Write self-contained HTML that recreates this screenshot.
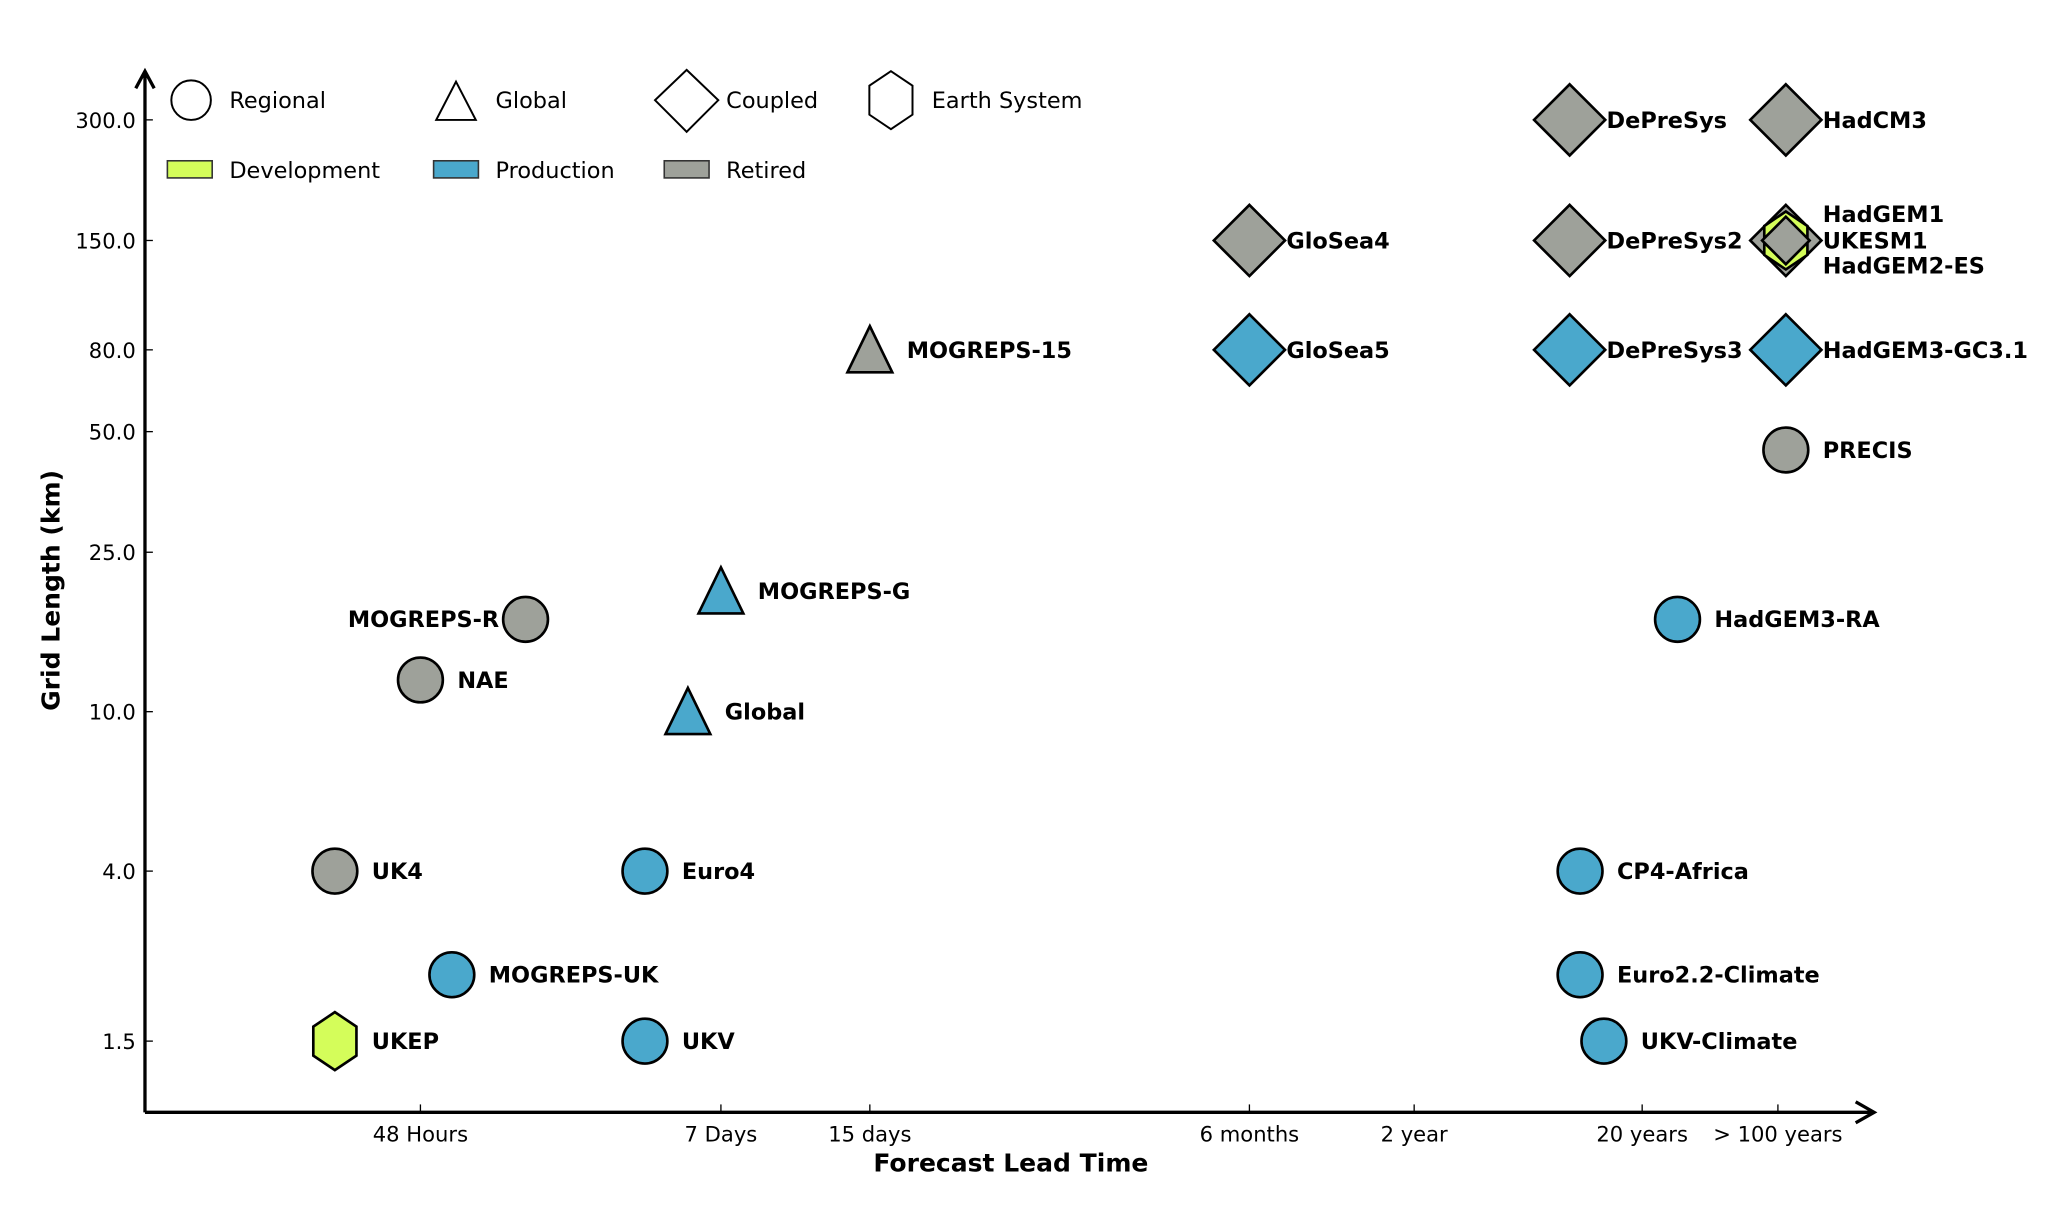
<!DOCTYPE html>
<html><head><meta charset="utf-8"><style>
html,body{margin:0;padding:0;background:#fff;}
svg{display:block;font-family:"DejaVu Sans","Liberation Sans",sans-serif;}
</style></head><body>
<svg id="chart" width="2056" height="1208" viewBox="0 0 1560 916.6" preserveAspectRatio="none" xmlns="http://www.w3.org/2000/svg">
<g id="axes"></g>
<g id="legend"></g>
<g id="marks"></g>
</svg>
<script>
// ---- data ----
const tickDays = [2, 7, 15, 182, 730, 7300, 36500];
const tickLabels = ["48 Hours", "7 Days", "15 days", "6 months", "2 year", "20 years", "> 100  years"];
const yTicks = [300, 150, 80, 50, 25, 10, 4, 1.5];
const yTickLabels = ["300.0", "150.0", "80.0", "50.0", "25.0", "10.0", "4.0", "1.5"];
const modelNames = ["UKEP","UK4","NAE","MOGREPS-UK","MOGREPS-R","Euro4","UKV","Global","MOGREPS-G","MOGREPS-15","GloSea4","GloSea5","DePreSys","DePreSys2","DePreSys3","CP4-Africa","Euro2.2-Climate","UKV-Climate","HadGEM3-RA","HadCM3","HadGEM1","UKESM1","HadGEM2-ES","HadGEM3-GC3.1","PRECIS"];
const modelLead = [1.4,1.4,2,2.28,3.1,5.1,5.1,6.1,7,15,182,182,3510,3510,3510,3900,3900,4960,11100,40100,40100,40100,40100,40100,40100];
const modelGrid = [1.5,4,12,2.2,17,4,1.5,10,20,80,150,80,300,150,80,4,2.2,1.5,17,300,150,150,150,80,45];
const modelShape = ["hexagon","circle","circle","circle","circle","circle","circle","triangle","triangle","triangle","diamond","diamond","diamond","diamond","diamond","circle","circle","circle","circle","diamond","diamond","hexagon","smalldiamond","diamond","circle"];
const modelStatus = ["dev","ret","ret","prod","ret","prod","prod","prod","prod","ret","ret","prod","ret","ret","prod","prod","prod","prod","prod","ret","ret","dev","ret","prod","ret"];

// ---- scales ----
const tickPos = [319, 547, 660, 948, 1073, 1246, 1349];
function xScale(d){
  const L = Math.log10(d);
  const lt = tickDays.map(Math.log10);
  let i = 0;
  if (L <= lt[0]) i = 0; else { i = lt.length - 2; for (let k=0;k<lt.length-1;k++){ if (L<=lt[k+1]){i=k;break;} } }
  return tickPos[i] + (L - lt[i]) / (lt[i+1]-lt[i]) * (tickPos[i+1]-tickPos[i]);
}
function yScale(v){
  const L = Math.log10(v);
  if (L >= 0.602) return 540 - 304*(L-1);
  return 661 + (0.602 - L)/(0.602-0.176)*129;
}
const colors = {dev:"#d4fd5a", prod:"#4aa8cc", ret:"#9ea19a"};
const NS = "http://www.w3.org/2000/svg";
function el(tag, attrs, parent){ const e=document.createElementNS(NS,tag); for(const k in attrs) e.setAttribute(k,attrs[k]); parent.appendChild(e); return e; }
function shape(kind, cx, cy, fill, parent, sw){
  sw = sw||2;
  if (kind==="circle") return el("circle",{cx:cx,cy:cy,r:17,fill:fill,stroke:"#000","stroke-width":sw},parent);
  let pts;
  if (kind==="triangle") pts=[[cx,cy-18],[cx+17,cy+17],[cx-17,cy+17]];
  else if (kind==="diamond") pts=[[cx,cy-27],[cx+27,cy],[cx,cy+27],[cx-27,cy]];
  else if (kind==="smalldiamond") pts=[[cx,cy-18],[cx+18,cy],[cx,cy+18],[cx-18,cy]];
  else { pts=[]; for(let k=0;k<6;k++){const a=Math.PI/2+k*Math.PI/3; pts.push([cx+21*Math.cos(a)*0.9, cy-22*Math.sin(a)]);} }
  return el("polygon",{points:pts.map(p=>p.join(",")).join(" "),fill:fill,stroke:"#000","stroke-width":sw,"stroke-linejoin":"miter"},parent);
}

// ---- axes ----
const axes = document.getElementById("axes");
const ya = el("path",{d:"M110 844 L110 54 M103 67 L110 54 L117 67",fill:"none",stroke:"#000","stroke-width":2.5},axes);


const xa = el("path",{d:"M110 844 L1422 844 M1408 836 L1422 844 L1408 852",fill:"none",stroke:"#000","stroke-width":2.5},axes);


yTicks.forEach((v,i)=>{
  const y=yScale(v);
  el("line",{x1:110,x2:116,y1:y,y2:y,stroke:"#000","stroke-width":1},axes);
  const t=el("text",{x:103,y:y+6,"text-anchor":"end","font-size":16},axes);
  t.textContent=yTickLabels[i];
  
  
});
tickDays.forEach((d,i)=>{
  const x=xScale(d);
  el("line",{x1:x,x2:x,y1:844,y2:838,stroke:"#000","stroke-width":1},axes);
  const t=el("text",{x:x,y:866,"text-anchor":"middle","font-size":16},axes);
  t.textContent=tickLabels[i];
  
  
});
const xt=el("text",{x:767,y:889,"text-anchor":"middle","font-size":19,"font-weight":"bold"},axes);
xt.textContent="Forecast Lead Time";


const yt=el("text",{x:0,y:0,"text-anchor":"middle","font-size":19,"font-weight":"bold",transform:"translate(45 448) rotate(-90)"},axes);
yt.textContent="Grid Length (km)";



// ---- legend ----
const lg = document.getElementById("legend");
const shapeLeg = [["circle",145,"Regional",174],["triangle",346,"Global",376],["diamond",521,"Coupled",551],["hexagon",676,"Earth System",707]];
shapeLeg.forEach(s=>{
  const g=el("g",{},lg);
  
  
  if(s[0]==="circle") el("circle",{cx:s[1],cy:76,r:15,fill:"#fff",stroke:"#000","stroke-width":1.5},g);
  else if(s[0]==="triangle") el("polygon",{points:`${s[1]},62 ${s[1]+15},91 ${s[1]-15},91`,fill:"#fff",stroke:"#000","stroke-width":1.5},g);
  else if(s[0]==="diamond") el("polygon",{points:`${s[1]},53 ${s[1]+24},76 ${s[1]},100 ${s[1]-24},76`,fill:"#fff",stroke:"#000","stroke-width":1.5},g);
  else shape("hexagon",s[1],76,"#fff",g,1.5);
  const t=el("text",{x:s[3],y:82,"font-size":17},g); t.textContent=s[2];
});
const statLeg=[["dev",127,"Development",174],["prod",329,"Production",376],["ret",504,"Retired",551]];
statLeg.forEach(s=>{
  const g=el("g",{},lg);
  
  
  el("rect",{x:s[1],y:122,width:34,height:13,fill:colors[s[0]],stroke:"#333","stroke-width":1.2},g);
  const t=el("text",{x:s[3],y:135,"font-size":17},g); t.textContent=s[2];
});

// ---- marks ----
const mk=document.getElementById("marks");
const labelOffsets = {"MOGREPS-R":[-20,"end"],"HadGEM1":[28,"start",-20],"HadGEM2-ES":[28,"start",19],"UKESM1":[28,"start",0],"DePreSys":[28,"start"],"DePreSys2":[28,"start"],"DePreSys3":[28,"start"],"HadCM3":[28,"start"],"GloSea4":[28,"start"],"GloSea5":[28,"start"],"HadGEM3-GC3.1":[28,"start"]};
modelNames.forEach((n,i)=>{
  const cx=xScale(modelLead[i]), cy=yScale(modelGrid[i]);
  const g=el("g",{},mk);
  
  
  shape(modelShape[i],cx,cy,colors[modelStatus[i]],g);
  const off=labelOffsets[n]||[28,"start"];
  let tx=cx+off[0];
  if(modelShape[i]==="triangle") tx=cx+28;
  if(n==="HadGEM2-ES"||n==="HadGEM1"||n==="UKESM1") tx=xScale(modelLead[i])+28;
  const dy=off[2]||0;
  const t=el("text",{x:tx,y:cy+dy+6,"text-anchor":off[1],"font-size":17,"font-weight":"bold"},g);
  t.textContent=n;
  
  
});
</script>
</body></html>
